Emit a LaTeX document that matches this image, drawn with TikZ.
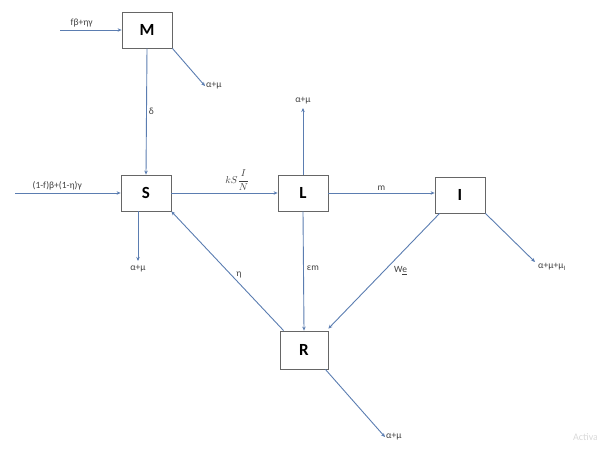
\documentclass[tikz,border=0pt]{standalone}
\usepackage{fontspec}
\setmainfont{Carlito}
\usetikzlibrary{arrows.meta}
\definecolor{lnc}{HTML}{5B7DB1}
\tikzset{
  box/.style={draw=black!60, line width=0.8pt, minimum width=50pt, minimum height=36pt, inner sep=0pt, font=\fontsize{17}{17}\selectfont\bfseries, fill=white},
  flow/.style={draw=lnc, line width=0.9pt, -{Stealth[length=4pt,width=3.5pt]}},
  lab/.style={font=\fontsize{9.5}{10}\selectfont, text=black!75, inner sep=1pt}
}
\begin{document}
\begin{tikzpicture}[x=1pt,y=-1pt]
\useasboundingbox (0,0) rectangle (597,455);
\node[box] (M) at (147,30) {M};
\node[box] (S) at (146,193) {S};
\node[box] (L) at (303,193) {L};
\node[box] (I) at (460,195) {I};
\node[box, minimum width=48pt, minimum height=38pt] (R) at (304,350) {R};

\coordinate (inM) at (60,30);
\coordinate (inS) at (15,193);
\coordinate (oM) at (205,86);
\coordinate (oS) at (138,261);
\coordinate (oL) at (303,108);
\coordinate (oI) at (535,262);
\coordinate (oR) at (385,437);

\node[lab, anchor=west] (tM) at (oM) {α+μ};
\node[lab, anchor=north] (tS) at ([yshift=-3pt]oS) {α+μ};
\node[lab, anchor=south] (tL) at ([yshift=3pt]oL) {α+μ};
\node[lab, anchor=west] (tI) at ([xshift=2pt,yshift=-5pt]oI) {α+μ+μ\textsubscript{I}};
\node[lab, anchor=west] (tR) at (oR) {α+μ};

\draw[flow] (inM) -- (M.west) node[lab, pos=0.35, above=1pt] (fin) {fβ+ηγ};
\draw[flow] (inS) -- (S.west) node[lab, pos=0.4, above=1pt] (sin) {(1-f)β+(1-η)γ};
\draw[flow] (M.south east) -- (oM);
\draw[flow] (M.south) -- (S.north) node[lab, midway, right=1pt] (d) {δ};
\draw[flow] ([xshift=-8pt]S.south) -- (oS);
\draw[flow] (S.east) -- (L.west) node[lab, pos=0.62, above=1pt, font=\fontsize{10}{10}\selectfont\itshape] (k) {$kS\displaystyle\frac{I}{N}$};
\draw[flow] (L.north) -- (oL);
\draw[flow] (L.east) -- (I.west |- L.east) node[lab, midway, above=1pt] (m) {m};
\draw[flow] (L.south) -- (R.north) node[lab, pos=0.48, right=2pt] (em) {εm};
\draw[flow] ([xshift=5pt]I.south west) -- ([yshift=2pt]R.north east) node[lab, pos=0.45, anchor=north west, xshift=3pt] (we) {W\underline{e}};
\draw[flow] (I.south east) -- (oI);
\draw[flow] ([xshift=4pt]R.north west) -- (S.south east) node[lab, pos=0.47, right=4pt] (eta) {η};
\draw[flow] ([xshift=-3pt]R.south east) -- (oR);

\node[lab, text=black!15, anchor=west, font=\fontsize{10}{10}\selectfont] (wm) at (572,437) {Activa};
\end{tikzpicture}
\end{document}
